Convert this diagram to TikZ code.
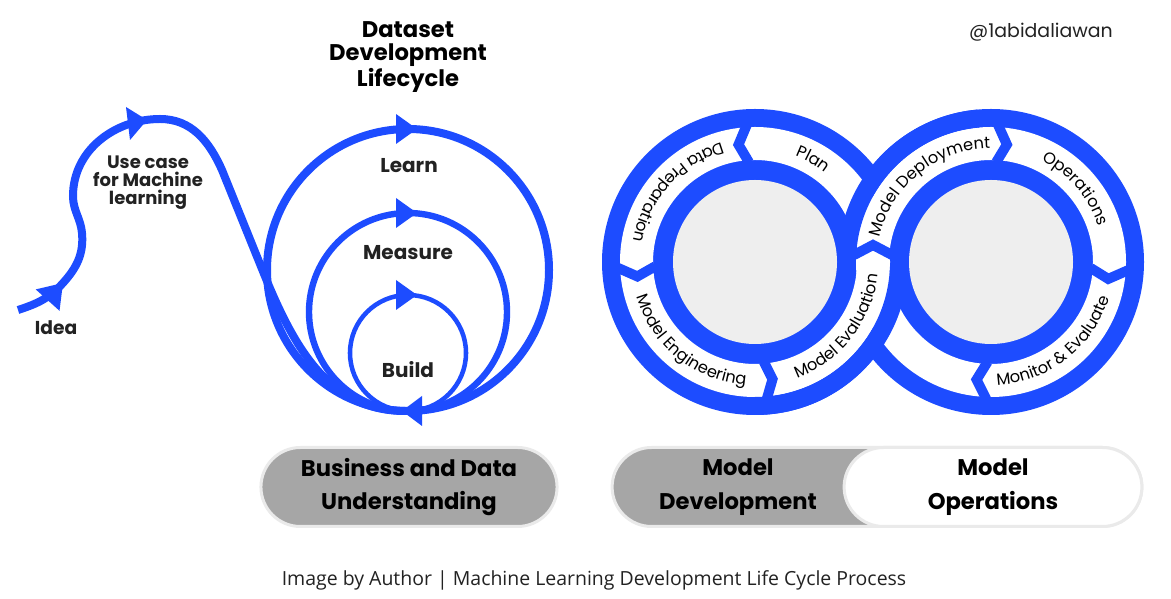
\documentclass[tikz,border=0pt]{standalone}
\usepackage{fontspec}
\setmainfont{Poppins}
\newfontfamily\captionfont{Open Sans}
\usetikzlibrary{positioning,shapes.misc,decorations.text}
\definecolor{mlblue}{HTML}{1D4CFF}
\definecolor{disk}{HTML}{EEEEEE}
\definecolor{pillgrey}{HTML}{A6A6A6}
\definecolor{pillline}{HTML}{EAEAEA}
\definecolor{ink}{HTML}{222222}
\newcommand\ringfont{\fontsize{12.2}{14}\selectfont}

\begin{document}
\begin{tikzpicture}[x=0.75pt, y=0.75pt]
  \tikzstyle{stage} = [text=ink, align=center, font=\fontsize{13.5}{13.5}\selectfont\bfseries]
  \tikzstyle{step label} = [stage, font=\fontsize{15}{15}\selectfont\bfseries]
  \tikzstyle{head} = [fill=mlblue]
  \tikzstyle{chevron} = [draw=mlblue, line width=7.5pt, line join=miter]
  \tikzstyle{band} = [draw=mlblue, line width=13.5pt]
  \tikzstyle{pill} = [shape=rounded rectangle, draw=pillline, line width=2.25pt, minimum height=59.25pt,
                      align=center, font=\fontsize{17}{25}\selectfont\bfseries]
  \tikzset{ringtext/.style={decorate, decoration={text along path, text align=center, text={|\ringfont|#1}}}}
  \path[use as bounding box, fill=white] (0,0) rectangle (1171,599);

  \coordinate (dc) at (408,329);
  \coordinate (mc) at (408,287);
  \coordinate (bc) at (408,246);
  \coordinate (ml) at (755,337);
  \coordinate (mr) at (991,337);

  \draw[mlblue, line width=6pt] (dc) circle[radius=141];
  \draw[mlblue, line width=4.8pt] (mc) circle[radius=99];
  \draw[mlblue, line width=3.4pt] (bc) circle[radius=58];
  \draw[mlblue, line width=6pt] (18,289) to[out=18,in=228] (63,316) to[out=48,in=-85] (82,366)
       to[out=95,in=-90] (73,403) to[out=90,in=180] (160,480) to[out=0,in=114] (222,429)
       -- (262,330) to[out=-68,in=180] (405,188);
  \fill[head] (dc) ++(9,141) -- ++(-21,15) -- ++(0,-30) -- cycle;
  \fill[head] (mc) ++(9,99) -- ++(-21,15) -- ++(0,-30) -- cycle;
  \fill[head] (bc) ++(9,58) -- ++(-21,15) -- ++(0,-30) -- cycle;
  \fill[head] (dc) ++(-6,-141) -- ++(20,15) -- ++(0,-30) -- cycle;
  \fill[head] (63,316) -- (35.7,309.6) -- (59.5,288.2) -- cycle;
  \fill[head] (147,479) -- (126,492) -- (130,459) -- cycle;

  \node[stage, text=black, font=\fontsize{17}{17}\selectfont\bfseries] (title) at (408,542) {Dataset\\Development\\Lifecycle};
  \node[step label] (learn) at (409,433) {Learn};
  \node[step label] (measure) at (408,346) {Measure};
  \node[step label] (build) at (408,229) {Build};
  \node[stage] (usecase) at (148,416) {Use case\\for Machine\\learning};
  \node[stage, font=\fontsize{14}{14}\selectfont\bfseries] (idea) at (56,271) {Idea};

  \fill[mlblue] (ml) circle[radius=153] (mr) circle[radius=153];
  \fill[white, even odd rule] (ml) circle[radius=135] (ml) circle[radius=102];
  \fill[white, even odd rule] (mr) circle[radius=135] (mr) circle[radius=102];
  \fill[disk] (ml) circle[radius=82] (mr) circle[radius=82];
  \draw[band] (mr) ++(95:144) arc[start angle=95, end angle=176, radius=144];
  \draw[band] (ml) ++(-2:144) arc[start angle=-2, end angle=-90, radius=144];
  \foreach \a/\d in {93.5/4.5, 182.5/4.5, -85/3.5}
    \draw[chevron] ([shift={(\a:100)}]ml) -- ([shift={({\a+\d}:118.5)}]ml) -- ([shift={(\a:137)}]ml);
  \foreach \a/\d in {87/-4.7, -3.5/-4.7, -92/-5}
    \draw[chevron] ([shift={(\a:100)}]mr) -- ([shift={({\a+\d}:118.5)}]mr) -- ([shift={(\a:137)}]mr);
  \draw[chevron] (854,344) -- (873,354) -- (894,343);

  \path[ringtext=Plan] (ml) ++(90:113.5) arc[start angle=90, end angle=31, radius=113.5];
  \path[ringtext=Data Preparation] (ml) ++(98:123.5) arc[start angle=98, end angle=178, radius=123.5];
  \path[ringtext=Model Engineering] (ml) ++(192:123.5) arc[start angle=192, end angle=270, radius=123.5];
  \path[ringtext=Model Evaluation] (ml) ++(-78:123.5) arc[start angle=-78, end angle=2, radius=123.5];
  \path[ringtext=Model Deployment] (mr) ++(170:113.5) arc[start angle=170, end angle=88, radius=113.5];
  \path[ringtext=Operations] (mr) ++(81:113.5) arc[start angle=81, end angle=1, radius=113.5];
  \path[ringtext={Monitor {\&} Evaluate}] (mr) ++(-92:123.5) arc[start angle=-92, end angle=-12, radius=123.5];

  \node[pill, fill=pillgrey, minimum width=228.75pt] (bizpill) at (409,112) {Business and Data\\Understanding};
  \node[pill, fill=pillgrey, minimum width=404pt] (devpill) at (877,112) {};
  \node[pill, fill=white, minimum width=230pt] (opspill) at (993,112) {Model\\Operations};
  \node[align=center, font=\fontsize{17}{25}\selectfont\bfseries] (devtext) at (738,112) {Model\\Development};

  \node[text=ink, font=\fontsize{14.2}{16}\selectfont] (handle) at (1041,567) {@1abidaliawan};
  \node[text=ink, font=\captionfont\fontsize{14.6}{17}\selectfont] (caption) at (594,19)
       {Image by Author | Machine Learning Development Life Cycle Process};
\end{tikzpicture}
\end{document}
